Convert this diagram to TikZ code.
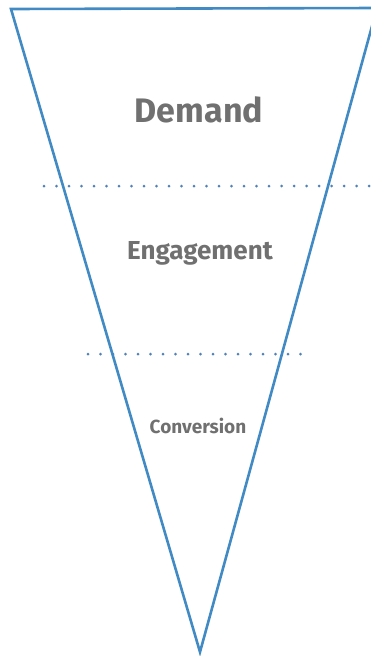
\documentclass[tikz,border=0pt]{standalone}
\usepackage{fontspec}
\setmainfont{Fira Sans}
\usepackage{xcolor}
\usepackage{tikz}
\definecolor{funnelblue}{RGB}{65,138,195}
\definecolor{dotblue}{RGB}{80,130,185}
\definecolor{labelgray}{RGB}{112,112,112}
\tikzset{
    stagelabel/.style={text=labelgray, inner sep=0pt, anchor=base},
    divider/.style={dotblue, line width=3pt, dash pattern=on 0pt off 12.5pt, line cap=round}
}

\begin{document}
\begin{tikzpicture}[x=1pt, y=-1pt]
        \useasboundingbox (0,0) rectangle (371,656);
        \clip (0,0) rectangle (371,656);
        \coordinate (tl) at (11,9);
        \coordinate (tr) at (377,8);
        \coordinate (tip) at (200,652);
            % dotted stage dividers
            \coordinate (d1a) at (44,186);
            \coordinate (d1b) at (371,186);
            \coordinate (d2a) at (88,354);
            \coordinate (d2b) at (302,354);
            \draw[divider] (d1a) -- (d1b);
            \draw[divider] (d2a) -- (d2b);
            \draw[funnelblue, line width=2.6pt, line join=miter] (tl) -- (tr) -- (tip) -- cycle;
            % stage labels
            \node[stagelabel, font=\bfseries\fontsize{34}{38}\selectfont] (demand) at (199,122) {Demand};
            \node[stagelabel, font=\bfseries\fontsize{26}{30}\selectfont] (engage) at (200,259) {Engagement};
            \node[stagelabel, font=\bfseries\fontsize{19}{22}\selectfont] (convert) at (198,433) {Conversion};
    \end{tikzpicture}
\end{document}
